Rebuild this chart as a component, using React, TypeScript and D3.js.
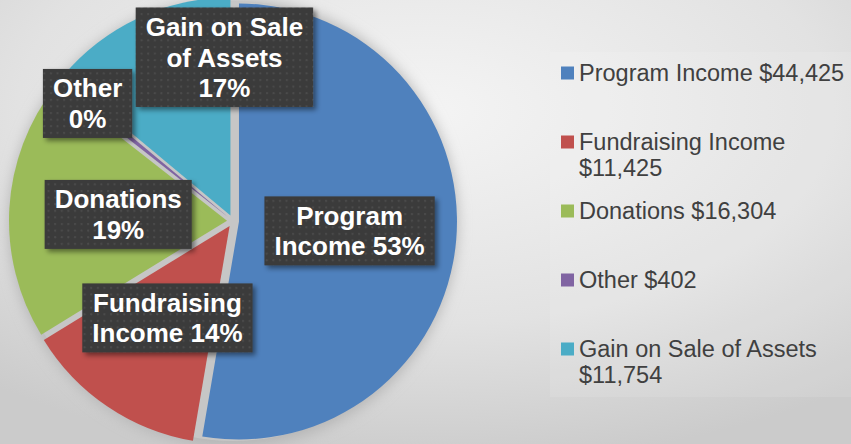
import React from "react";
import * as d3 from "d3";

const width = 851;
const height = 444;
const family = "Liberation Sans";

// chart data
const categories = [
  "Program Income",
  "Fundraising Income",
  "Donations",
  "Other",
  "Gain on Sale of Assets"
];
const amounts = [44425, 11425, 16304, 402, 11754];
const shownPercents = [53, 14, 19, 0, 17]; // as printed on the slice labels
const colors = ["#4f81bd", "#c0504d", "#9bbb59", "#8064a2", "#4bacc6"];

// pie geometry
const cx = 233;
const cy = 221;
const radius = 218;
const explode = 6;

// where each slice label sits (radius from centre, wrap width, optional angle)
const labelPlacement: { r: number; wrap: number; angle?: number }[] = [
  { r: 117, wrap: 170 },
  { r: 117, wrap: 170 },
  { r: 115, wrap: 170 },
  { r: 187, wrap: 90 },
  { r: 164, wrap: 170, angle: (-3 * Math.PI) / 180 }
];

const ctx = document.createElement("canvas").getContext("2d")!;
function measure(text: string, f: string) {
  ctx.font = f;
  return ctx.measureText(text).width;
}
function wrap(text: string, maxW: number, f: string) {
  const words = text.split(" ");
  const lines: string[] = [];
  let cur = "";
  words.forEach(w => {
    const test = cur ? cur + " " + w : w;
    if (cur && measure(test, f) > maxW) {
      lines.push(cur);
      cur = w;
    } else cur = test;
  });
  if (cur) lines.push(cur);
  return lines;
}

const fmt = d3.format("$,");

export default function App() {
  const pie = d3
    .pie<number>()
    .sort(null)
    .value(d => d);
  const arcs = pie(amounts);
  const arc = d3
    .arc<d3.PieArcDatum<number>>()
    .innerRadius(0)
    .outerRadius(radius);

  const labelFont = `bold 26px "${family}"`;
  const legendFont = `23.5px "${family}"`;
  const legendY = d3
    .scalePoint<string>()
    .domain(categories)
    .range([73, 349]);

  return (
    <div style={{ position: "absolute", left: 0, top: 0 }}>
      <svg width={width} height={height} style={{ display: "block" }} fontFamily={family}>
        <defs>
          <radialGradient id="bg" cx="0.5" cy="0.25" r="0.8">
            <stop offset="0" stopColor="#f4f4f4" />
            <stop offset="0.6" stopColor="#e2e2e2" />
            <stop offset="1" stopColor="#cbcbcb" />
          </radialGradient>
          <filter id="pieShadow" x="-20%" y="-20%" width="140%" height="140%">
            <feGaussianBlur stdDeviation="7" />
          </filter>
          <filter id="boxShadow" x="-20%" y="-20%" width="140%" height="150%">
            <feDropShadow dx="3" dy="3" stdDeviation="2.5" floodColor="#000" floodOpacity="0.45" />
          </filter>
          <pattern id="dots" width="6.6" height="6.6" patternUnits="userSpaceOnUse">
            <rect width="6.6" height="6.6" fill="#3a3a3a" />
            <rect x="2" y="2" width="2" height="2" fill="#4c4c4c" />
          </pattern>
        </defs>

        <rect width={width} height={height} fill="url(#bg)" />
        <rect x={550} y={52} width={301} height={345} fill="#ffffff" opacity={0.1} />

        {/* pie shadow and gap colour */}
        <circle cx={cx} cy={cy + 2} r={radius + 6} fill="#b5b5b5" filter="url(#pieShadow)" />
        <circle cx={cx} cy={cy} r={radius + 2} fill="#c6c6c6" />

        <g transform={`translate(${cx},${cy})`}>
          {arcs.map((a, i) => {
            const mid = (a.startAngle + a.endAngle) / 2;
            const dx = Math.sin(mid) * explode;
            const dy = -Math.cos(mid) * explode;
            return (
              <path
                key={categories[i]}
                d={arc(a) || ""}
                fill={colors[i]}
                transform={`translate(${dx},${dy})`}
              />
            );
          })}
        </g>

        {/* slice labels */}
        {arcs.map((a, i) => {
          const p = labelPlacement[i];
          const ang = p.angle !== undefined ? p.angle : (a.startAngle + a.endAngle) / 2;
          const lx = cx + Math.sin(ang) * p.r;
          const ly = cy - Math.cos(ang) * p.r;
          const lines = wrap(`${categories[i]} ${shownPercents[i]}%`, p.wrap, labelFont);
          const lh = 30.5;
          const bw = d3.max(lines, l => measure(l, labelFont))! + 20;
          const bh = lines.length * lh + 8;
          return (
            <g key={"lab" + i} transform={`translate(${lx},${ly})`}>
              <rect
                x={-bw / 2}
                y={-bh / 2}
                width={bw}
                height={bh}
                fill="url(#dots)"
                filter="url(#boxShadow)"
              />
              {lines.map((l, j) => (
                <text
                  key={j}
                  x={0}
                  y={(j - (lines.length - 1) / 2) * lh + 9.3}
                  textAnchor="middle"
                  fill="#ffffff"
                  fontSize={26}
                  fontWeight="bold"
                >
                  {l}
                </text>
              ))}
            </g>
          );
        })}

        {/* legend */}
        {categories.map((c, i) => {
          const y = legendY(c)!;
          const lines = wrap(`${c} ${fmt(amounts[i])}`, 270, legendFont);
          return (
            <g key={"leg" + c}>
              <rect x={561} y={y - 6.5} width={13} height={13} fill={colors[i]} />
              {lines.map((l, j) => (
                <text
                  key={j}
                  x={579}
                  y={y + j * 26 + 8.4}
                  fill="#404040"
                  fontSize={23.5}
                >
                  {l}
                </text>
              ))}
            </g>
          );
        })}
      </svg>
    </div>
  );
}
